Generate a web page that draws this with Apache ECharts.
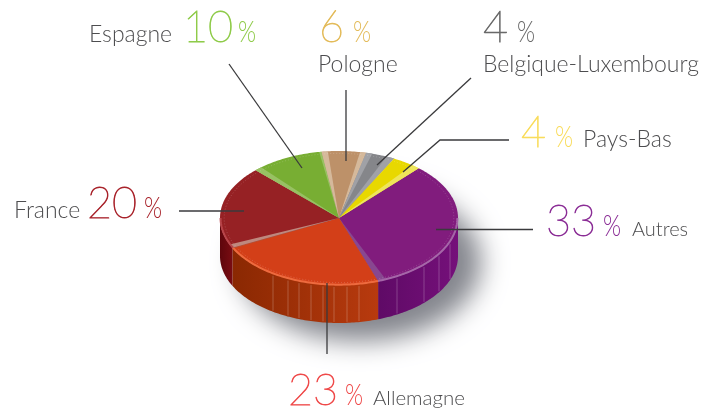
<!DOCTYPE html>
<html><head><meta charset="utf-8">
<style>html,body{margin:0;padding:0;background:#fff}#c{width:716px;height:413px}</style>
<script src="https://cdn.jsdelivr.net/npm/echarts@6/dist/echarts.min.js"></script>
</head><body><div id="c"></div>
<script>
// ---- data
const categories = ['Autres','Allemagne','France','Espagne','Pologne','Belgique-Luxembourg','Pays-Bas'];
const values = [33,23,20,10,6,4,4];
// ---- styles
const topColors  = ['#811c7d','#d33f18','#962124','#78ae33','#bd9169','#85868a','#e8d800'];
const wallColors = [['#5f0a66','#75107a'],['#8a2802','#b83a0e'],['#5e060c','#7a0c12'],['#5a8020','#5a8020'],['#8a6a4a','#8a6a4a'],['#5a5a5e','#5a5a5e'],['#a09500','#a09500']];
const rimColors  = ['#a566a8','#ee6a3e','#b8454a','#9bc860','#d8b595','#a8a9ad','#f4ec60'];
const stripColors= ['#8a4f93','#b9502f','#c69a8e','#9dc46c','#d9bfa5','#a5a6aa','#efe86a'];
const stripStart = [0,0,3.2,3.5,3,3,0];
const stripEnd   = [4,0.8,0,1.2,3,4,4];
const numColors  = ['#8b2e96','#ef4a4a','#a9242c','#8fcb4a','#e3bb5a','#6a6a6a','#f9dc5c'];
// ---- layout
const PIE = {cx:339, cy:218, rx:119, ry:67, depth:38, startAngle:42};
const wallRibs = [273,288,299,311,323,334,347,359,397,424,439,450];
const nameLayout = [[632,237,20],[373,406,20.5],[14,219,23],[89,43,23],[318,73,23],[483,73,23],[583,148,23]];
const numLayout  = [[546,237,44,603,29],[288,406,44,345,29],[87,219,44,144,29],[183,43,44,238,29],[319,43,44,353,29],[483,43,44,517,29],[521,148,44,555,29]];
const NUM_SCALE = 0.98, PCT_SCALE = 0.8;
const leaderLines = [
 [[533,229.5],[436,229.5]],
 [[327,354],[327,283]],
 [[179,211],[244,211]],
 [[229,64],[302,168]],
 [[346,90],[346,161]],
 [[471,78],[377,165]],
 [[509,140],[440,140],[403,172]]
];
const FONT = '"Lato","Open Sans",sans-serif';
const NAME_COLOR = '#4d4d4f';

const total = values.reduce((a,b)=>a+b,0);
const pt = (deg,k=1,dy=0)=>{const t=deg*Math.PI/180;return [PIE.cx+PIE.rx*k*Math.sin(t),PIE.cy-PIE.ry*k*Math.cos(t)+dy];};
const arc = (a,b,k=1,dy=0)=>{const n=Math.max(2,Math.ceil(Math.abs(b-a)));const r=[];for(let i=0;i<=n;i++)r.push(pt(a+(b-a)*i/n,k,dy));return r;};
const spans = (()=>{let s=PIE.startAngle;return values.map(v=>{const e=s+v/total*360;const r=[s,e];s=e;return r;});})();
const data = values.map((v,i)=>({name:categories[i],value:[v,i]}));

function renderWall(p,api){
  const i=api.value(1);const [a,b]=spans[i];
  const lo=Math.max(a,90),hi=Math.min(b,270);
  if(hi<=lo) return {type:'group',children:[]};
  const top=arc(lo,hi),bot=arc(hi,lo,1,PIE.depth);
  return {type:'polygon',shape:{points:top.concat(bot)},silent:true,style:{
    fill:{type:'linear',x:0,y:0,x2:1,y2:0,colorStops:[{offset:0,color:wallColors[i][0]},{offset:1,color:wallColors[i][1]}]},
    stroke:null}};
}
function renderTop(p,api){
  const i=api.value(1);const [a,b]=spans[i];const c=[PIE.cx,PIE.cy];
  const kids=[{type:'polygon',shape:{points:[c].concat(arc(a,b))},style:{fill:topColors[i]}}];
  if(stripStart[i]>0) kids.push({type:'polygon',shape:{points:[c].concat(arc(a,a+stripStart[i]))},style:{fill:stripColors[i],opacity:.85}});
  if(stripEnd[i]>0) kids.push({type:'polygon',shape:{points:[c].concat(arc(b-stripEnd[i],b))},style:{fill:stripColors[i],opacity:.85}});
  kids.push({type:'polyline',shape:{points:arc(a+1,b-1,.965)},style:{fill:null,stroke:'rgba(255,255,255,.3)',lineWidth:.6,lineDash:[1,2]}});
  const lo=Math.max(a,90),hi=Math.min(b,270);
  if(hi>lo) kids.push({type:'polyline',shape:{points:arc(lo,hi,.995)},style:{fill:null,stroke:rimColors[i],lineWidth:2}});
  return {type:'group',silent:true,children:kids};
}
function renderRib(p,api){
  const x=api.value(0);const dx=(x-PIE.cx)/PIE.rx;
  const y=PIE.cy+PIE.ry*Math.sqrt(1-dx*dx);
  return {type:'line',silent:true,shape:{x1:x,y1:y+2,x2:x,y2:y+PIE.depth-1},style:{stroke:'rgba(255,255,255,.22)',lineWidth:1}};
}
const textEl=(text,x,base,size,fill,weight,sx,sw)=>({type:'text',silent:true,x:x,y:base-size*0.35,scaleX:sx||1,style:{text:text,fill:fill,stroke:sw?fill:null,lineWidth:sw||0,font:`${weight} ${size}px ${FONT}`,verticalAlign:'middle',align:'left'}});
const graphics=[];
values.forEach((v,i)=>{
  const n=nameLayout[i],m=numLayout[i];
  graphics.push(textEl(categories[i],n[0],n[1],n[2],NAME_COLOR,300));
  graphics.push(textEl(String(v),m[0],m[1],m[2],numColors[i],100,NUM_SCALE,0.9));
  graphics.push(textEl('%',m[3],m[1],m[4],numColors[i],300,PCT_SCALE));
});
leaderLines.forEach(l=>graphics.push({type:'polyline',silent:true,z:50,shape:{points:l},style:{fill:null,stroke:'#3a3a3c',lineWidth:1.3}}));

const chart=echarts.init(document.getElementById('c'),null,{renderer:'canvas'});
chart.setOption({
  animation:false,backgroundColor:'#fff',tooltip:{show:false},
  graphic:graphics.map(g=>Object.assign({z:50},g)),
  series:[
    {type:'custom',coordinateSystem:'none',z:1,silent:true,data:[0],renderItem:()=>({
      type:'ellipse',silent:true,shape:{cx:PIE.cx+21-1500,cy:PIE.cy+44,rx:PIE.rx+2,ry:PIE.ry+12},
      style:{fill:'#8f9298',shadowColor:'rgba(125,128,135,.95)',shadowBlur:26,shadowOffsetX:1500,shadowOffsetY:0}})},
    {type:'custom',coordinateSystem:'none',z:2,silent:true,data:data,renderItem:renderWall},
    {type:'custom',coordinateSystem:'none',z:3,silent:true,data:wallRibs,renderItem:renderRib,encode:{}},
    {type:'custom',coordinateSystem:'none',z:4,silent:true,data:data,renderItem:renderTop}
  ]
});
</script></body></html>
